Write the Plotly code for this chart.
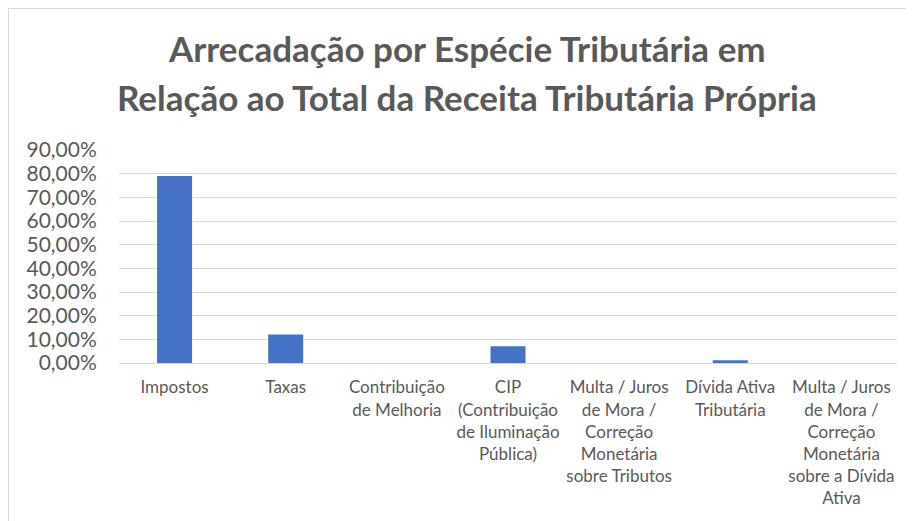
import plotly.graph_objects as go

categories = [
    "Impostos",
    "Taxas",
    "Contribuição<br>de Melhoria",
    "CIP<br>(Contribuição<br>de Iluminação<br>Pública)",
    "Multa / Juros<br>de Mora /<br>Correção<br>Monetária<br>sobre Tributos",
    "Dívida Ativa<br>Tributária",
    "Multa / Juros<br>de Mora /<br>Correção<br>Monetária<br>sobre a Dívida<br>Ativa",
]
values = [79.05, 12.0, 0.0, 7.1, 0.0, 1.2, 0.0]
tick_vals = [0, 10, 20, 30, 40, 50, 60, 70, 80, 90]
tick_text = ["0,00%", "10,00%", "20,00%", "30,00%", "40,00%", "50,00%",
             "60,00%", "70,00%", "80,00%", "90,00%"]
title_lines = ["Arrecadação por Espécie Tributária em",
               "Relação ao Total da Receita Tributária Própria"]

W, H = 914, 521
OFF = 8  # page body margin
L, T = 119 - OFF, 150 - OFF
R = W - (897 - OFF)
B = H - (363 - OFF)
pw, ph = W - L - R, H - T - B

def px_x(x):
    return (x - OFF - L) / pw

def px_y(y):
    return (H - B - (y - OFF)) / ph

FONT = "Lato"
TXT = "#595959"

fig = go.Figure(go.Bar(x=categories, y=values, marker_color="#4472C4",
                       marker_line_width=0))

fig.update_layout(
    width=W, height=H,
    margin=dict(l=L, r=R, t=T, b=B),
    paper_bgcolor="white", plot_bgcolor="white",
    bargap=0.685,
    showlegend=False,
    font=dict(family=FONT, color=TXT),
)
fig.update_xaxes(tickfont=dict(size=17, color=TXT), ticks="outside",
                 ticklen=9, tickcolor="rgba(0,0,0,0)", showline=False)
fig.update_yaxes(range=[0, 90], tickvals=tick_vals, ticktext=tick_text,
                 tickfont=dict(size=21, color=TXT), showgrid=True,
                 gridcolor="#D9D9D9", gridwidth=1, zeroline=True,
                 zerolinecolor="#D9D9D9", zerolinewidth=1,
                 ticks="outside", ticklen=17, tickcolor="rgba(0,0,0,0)")

for line, py in zip(title_lines, [48, 97]):
    fig.add_annotation(text="<b>" + line + "</b>", xref="paper", yref="paper",
                       x=px_x(467), y=px_y(py), xanchor="center",
                       yanchor="middle", showarrow=False,
                       font=dict(size=35, color=TXT, family=FONT))

fig.add_shape(type="rect", xref="paper", yref="paper",
              x0=px_x(OFF + 0.5), x1=px_x(912), y0=px_y(560), y1=px_y(OFF + 0.5),
              line=dict(color="#D9D9D9", width=1), fillcolor="rgba(0,0,0,0)",
              layer="below")

fig.write_html("out.html")
